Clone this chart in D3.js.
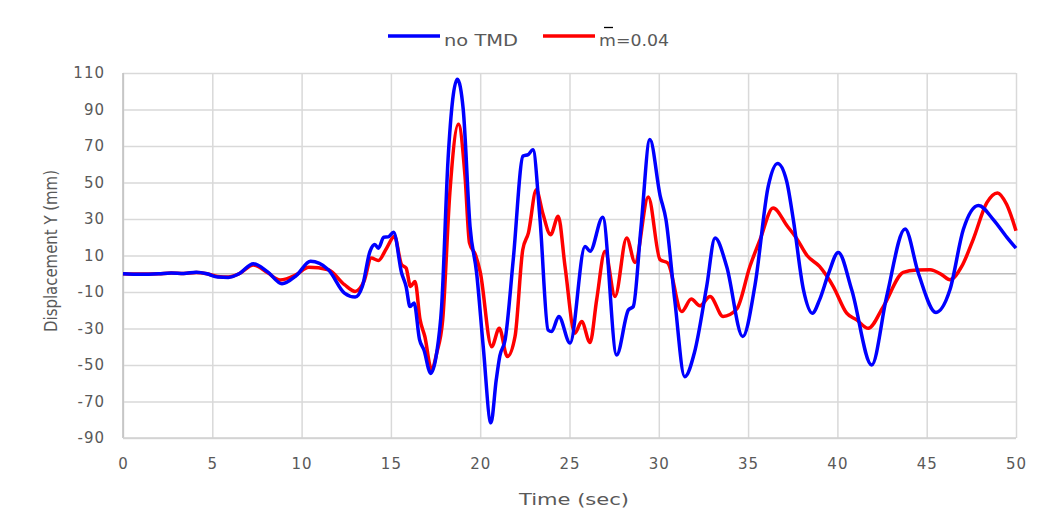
<!DOCTYPE html>
<html>
<head>
<meta charset="utf-8">
<script src="https://cdn.jsdelivr.net/npm/d3@7"></script>
<style>
  body { margin: 0; background: #fff; }
  .tick text { fill: #595959; font-family: "DejaVu Sans", Verdana, sans-serif; font-size: 15px; letter-spacing: 1px; }
  .grid line { stroke: #d9d9d9; stroke-width: 1.5; }
</style>
</head>
<body>
<div id="chart"></div>
<script>
// Time (sec) / displacement (mm), no TMD
const tNoTmd = [0, 1, 2, 2.7, 3.4, 4.1, 4.7, 5.3, 5.9, 6.5, 7.3, 8.1, 8.9, 9.7, 10.5, 11.5, 12.4, 13.0, 13.4, 13.83,
  14.1, 14.3, 14.6, 14.85, 15.15, 15.6, 15.85, 16.07, 16.3, 16.6, 16.85, 17.23, 17.56, 17.84, 18.2, 18.72, 19.05, 19.43,
  19.8, 20.17, 20.6, 20.9, 21.1, 21.4, 21.85, 22.4, 22.7, 22.95, 23.35, 23.8, 24.0, 24.4, 25.03, 25.87, 26.15, 26.86,
  27.64, 28.3, 28.57, 29.0, 29.5, 30.07, 30.4, 30.9, 31.45, 32.0, 32.68, 33.15, 33.8, 34.7, 35.39, 36.13, 36.65, 37.16,
  37.53, 38.1, 38.6, 39.0, 39.5, 40.05, 40.8, 41.92, 42.76, 43.79, 44.53, 45.52, 46.3, 47.05, 47.9, 48.73, 49.48, 50]
const yNoTmd = [0, -0.3, 0, 0.4, 0.2, 0.8, 0, -1.8, -2, 0, 5.5, 1, -5.5, -1, 6.8, 2.2, -10.6, -12.8, -7, 12.3,
  16, 14, 20, 20.2, 22.7, 0.4, -7, -18, -16, -36, -41.8, -54.6, -43.6, -18, 62.6, 106.6, 90, 26,
  0.4, -40, -81.7, -58, -45, -36, 7.7, 64.5, 65.4, 68, 29.7, -30.8, -31.7, -23.4, -38, 15, 12.3, 31,
  -44.5, -19.8, -18, 25, 73.5, 43, 29.7, -15, -56.4, -43, -7, 19.6, 4, -34.4, -6, 48, 60.4, 50.7,
  29.7, -8.8, -21.6, -14.3, 0, 11.7, -8.8, -50, -12.4, 24.5, 0.4, -21.2, -8.8, 24.2, 37.4, 29.7, 20.1, 14]

// with TMD, mass ratio 0.04
const tTmd = [0, 1, 2, 2.7, 3.4, 4.1, 4.7, 5.3, 5.9, 6.5, 7.3, 8.1, 8.8, 9.7, 10.4, 11.5, 12.4, 13.0, 13.5, 13.9,
  14.3, 14.76, 15.2, 15.6, 15.85, 16.1, 16.35, 16.63, 16.9, 17.28, 17.56, 17.9, 18.3, 18.78, 19.15, 19.4, 19.75, 20.0,
  20.64, 21.07, 21.52, 21.95, 22.38, 22.7, 23.14, 23.5, 23.94, 24.37, 24.75, 25.3, 25.68, 26.15, 26.52, 26.99, 27.55,
  28.2, 28.67, 29.41, 30.07, 30.5, 31.28, 31.82, 32.3, 32.87, 33.6, 34.36, 35.1, 35.67, 36.4, 37.2, 37.7, 38.3, 39.0,
  39.77, 40.52, 41.08, 41.73, 42.57, 43.69, 44.44, 45.19, 45.84, 46.3, 46.96, 47.6, 48.36, 48.96, 49.48, 50]
const yTmd = [0, -0.2, 0, 0.4, 0.2, 0.7, 0, -1.5, -1.8, 0, 4.8, 0.5, -3.4, -0.5, 3.5, 2.2, -6, -9.7, -4, 8.6,
  7.3, 14, 20.5, 5, 3.2, -7, -4.2, -25, -34.4, -52.7, -43.6, -25.3, 44.3, 81.9, 53.5, 17, 10, 1,
  -40, -29.9, -45.4, -34.4, 13, 22.4, 46, 33.3, 21.4, 31.5, 4, -32.6, -26.2, -37.7, -14.3, 12.3, -12.4,
  19.6, 6.2, 42.1, 7.7, 5.9, -20.7, -13.9, -17.6, -12.4, -23.4, -19.4, 4, 18.7, 36, 26, 19.6, 10, 4,
  -7, -21.6, -25.3, -29.9, -18, 0.7, 2, 2.2, -0.5, -3.3, 4, 18.7, 38.8, 44.3, 37.9, 23.6]

const xTicks = [0, 5, 10, 15, 20, 25, 30, 35, 40, 45, 50]
const yTicks = [110, 90, 70, 50, 30, 10, -10, -30, -50, -70, -90]
const seriesNames = ["no TMD", "m=0.04"]
const seriesColors = ["#0000ff", "#ff0000"]

// chart dimensions
const margin = {top: 73, right: 28, bottom: 81, left: 123}
const width = 1044 - margin.left - margin.right
const height = 519 - margin.top - margin.bottom

const root = d3.select("#chart").append("svg")
    .attr("width", 1044)
    .attr("height", 519)
const svg = root.append("g")
    .attr("transform", "translate(" + margin.left + "," + margin.top + ")")

const x = d3.scaleLinear().domain([0, 50]).range([0, width])
const y = d3.scaleLinear().domain([-90, 110]).range([height, 0])

// gridlines + tick labels (plain hyphen for negatives, like the original)
svg.append("g")
    .attr("class", "grid")
    .attr("transform", "translate(0," + height + ")")
    .call(d3.axisBottom(x).tickValues(xTicks).tickSize(-height).tickPadding(20).tickFormat(d => String(d)))
    .call(g => g.select(".domain").remove())

svg.append("g")
    .attr("class", "grid")
    .call(d3.axisLeft(y).tickValues(yTicks).tickSize(-width).tickPadding(18).tickFormat(d => String(d)))
    .call(g => g.select(".domain").remove())

// zero line and axis borders
svg.append("line")
    .attr("x1", 0).attr("x2", width)
    .attr("y1", y(0)).attr("y2", y(0))
    .attr("stroke", "#bfbfbf").attr("stroke-width", 1.5)
svg.append("line")
    .attr("x1", 0).attr("x2", 0)
    .attr("y1", 0).attr("y2", height)
    .attr("stroke", "#bfbfbf").attr("stroke-width", 1.5)
svg.append("line")
    .attr("x1", 0).attr("x2", width)
    .attr("y1", height).attr("y2", height)
    .attr("stroke", "#d0d0d0").attr("stroke-width", 1.5)

// lines
const line = d3.line()
    .x(d => x(d[0]))
    .y(d => y(d[1]))
    .curve(d3.curveMonotoneX)

const series = [
    tNoTmd.map((t, i) => [t, yNoTmd[i]]),
    tTmd.map((t, i) => [t, yTmd[i]])
]

svg.selectAll(".series")
    .data([series[1], series[0]])
    .join("path")
    .attr("class", "series")
    .attr("fill", "none")
    .attr("stroke", (d, i) => seriesColors[1 - i])
    .attr("stroke-width", 3.5)
    .attr("stroke-linejoin", "round")
    .attr("d", line)

// axis titles
root.append("text")
    .attr("x", 574)
    .attr("y", 505)
    .attr("text-anchor", "middle")
    .attr("fill", "#595959")
    .attr("font-family", "DejaVu Sans, Verdana, sans-serif")
    .attr("font-size", 16)
    .attr("textLength", 110)
    .attr("lengthAdjust", "spacingAndGlyphs")
    .text("Time (sec)")

root.append("text")
    .attr("transform", "translate(57,251) rotate(-90)")
    .attr("text-anchor", "middle")
    .attr("fill", "#595959")
    .attr("font-family", "Liberation Sans Narrow, DejaVu Sans Condensed, sans-serif")
    .attr("font-size", 17)
    .attr("textLength", 162)
    .attr("lengthAdjust", "spacingAndGlyphs")
    .text("Displacement Y (mm)")

// legend
const legendX = [388, 543]
const legend = root.append("g")
legend.selectAll("line")
    .data(seriesNames)
    .join("line")
    .attr("x1", (d, i) => legendX[i])
    .attr("x2", (d, i) => legendX[i] + 52)
    .attr("y1", 36).attr("y2", 36)
    .attr("stroke", (d, i) => seriesColors[i])
    .attr("stroke-width", 3.5)
legend.selectAll("text")
    .data(seriesNames)
    .join("text")
    .attr("x", (d, i) => legendX[i] + 56)
    .attr("y", 46)
    .attr("fill", "#595959")
    .attr("font-family", "DejaVu Sans, Verdana, sans-serif")
    .attr("font-size", 15)
    .attr("textLength", (d, i) => i === 0 ? 74 : 70)
    .attr("lengthAdjust", "spacingAndGlyphs")
    .text(d => d)
// bar over the m
legend.append("line")
    .attr("x1", legendX[1] + 61).attr("x2", legendX[1] + 70)
    .attr("y1", 27.5).attr("y2", 27.5)
    .attr("stroke", "#000").attr("stroke-width", 1.3)
</script>
</body>
</html>
